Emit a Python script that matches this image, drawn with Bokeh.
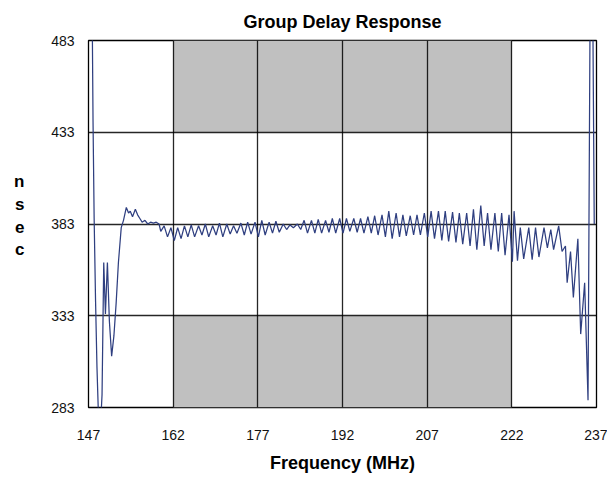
from bokeh.plotting import figure
from bokeh.models import FixedTicker, LinearAxis, Range1d
from bokeh.embed import file_html
from bokeh.resources import INLINE

# ---- data ----
freq_mhz = [
    147.6, 147.8, 148.0, 148.25, 148.5, 148.75, 149.05, 149.4, 149.7, 150.0,
    150.35, 150.7, 151.1, 151.5, 151.9, 152.3, 152.8, 153.2, 153.7, 154.1,
    154.4, 154.8, 155.3, 155.7, 156.1, 156.5, 157.0, 157.5, 158.0, 158.5,
    159.0, 159.5,
    159.8, 160.4, 161.0, 161.6, 162.2, 162.8, 163.4, 164.0, 164.6, 165.2,
    165.8, 166.5, 167.1, 167.7, 168.3, 169.0, 169.6, 170.2, 170.8, 171.5,
    172.1, 172.7, 173.3, 174.0, 174.6, 175.2, 175.8, 176.5, 177.1, 177.7,
    178.3, 179.0, 179.6, 180.2, 180.8, 181.5, 182.1, 182.7, 183.3, 184.0,
    184.6, 185.2, 185.8, 186.5, 187.1, 187.7, 188.3, 189.0, 189.6, 190.2,
    190.8, 191.5, 192.1, 192.7, 193.3, 194.0, 194.6, 195.2, 195.8, 196.5,
    197.1, 197.7, 198.3, 199.0, 199.6, 200.2, 200.8, 201.5, 202.1, 202.7,
    203.3, 204.0, 204.6, 205.2, 205.8, 206.5, 207.1, 207.7, 208.3, 209.0,
    209.6, 210.2, 210.8, 211.5, 212.1, 212.7, 213.3, 214.0, 214.6, 215.2,
    215.8, 216.5, 217.1, 217.7, 218.3, 219.0, 219.6, 220.2, 220.8, 221.5,
    222.1, 222.4, 223.0, 223.5, 224.1, 225.0, 225.6, 226.2, 226.8, 227.7,
    228.3, 228.9, 229.4, 230.3, 230.9, 231.5, 231.8, 232.4, 232.9, 233.7,
    234.2, 234.9, 235.5, 235.9, 236.3, 236.6,
]
delay_nsec = [
    520, 440, 386, 341, 305, 280, 268, 290, 362, 334,
    362, 330, 311, 322, 340, 362, 381, 385, 392, 389,
    390, 387, 391, 388, 386, 384, 385, 383, 384, 383.5,
    384, 383,
    379, 382, 376, 381, 374, 381, 375, 382, 376, 382.5,
    376, 382, 377, 383, 376, 382, 377, 383.5, 376, 383,
    377.5, 382, 378, 383.5, 377, 384, 377.5, 384, 376, 385,
    377, 384, 378, 384.5, 378.5, 383, 380, 382.5, 381, 383,
    380, 385, 378, 385, 378, 385.5, 378, 385, 378.5, 386,
    378, 386, 378, 386, 379, 386, 378.5, 386, 378, 387,
    378, 387.5, 377, 388, 376, 390, 375, 389, 376, 388,
    376.5, 387.5, 377, 388, 377, 389, 376, 390, 375, 390,
    374, 390, 373.5, 389.5, 373, 389, 372, 389, 371, 391,
    369, 393, 371, 389, 369, 389, 368, 389, 366, 388,
    362.5, 390, 363, 381, 364, 381, 363.5, 381, 365, 381,
    370, 380, 369, 382, 368, 371, 351, 368, 343, 375,
    323, 351, 287, 520, 520, 383,
]
x_ticks = [147, 162, 177, 192, 207, 222, 237]
y_ticks = [283, 333, 383, 433, 483]
band_x = [162, 222]
band_low = [283, 333]
band_high = [433, 483]
y_label_letters = ["n", "s", "e", "c"]
y_label_positions = [406, 393.5, 381, 369]

FONT = "'Liberation Sans', Arial, sans-serif"

p = figure(frame_width=508, frame_height=367, output_backend="svg", toolbar_location=None,
           x_range=Range1d(x_ticks[0], x_ticks[-1]),
           y_range=Range1d(y_ticks[0], y_ticks[-1]),
           min_border_left=88, min_border_right=11, min_border_top=40,
           min_border_bottom=60)

p.title.text = "Group Delay Response"
p.title.align = "center"
p.title.text_font = FONT
p.title.text_font_size = "18px"
p.title.text_font_style = "bold"
p.title.text_color = "#000000"
p.title.offset = 0
p.title.standoff = 17

# gray bands
for lo, hi in (band_low, band_high):
    r = p.quad(left=band_x[0], right=band_x[1], bottom=lo, top=hi,
               fill_color="#c0c0c0", line_color=None)
    r.level = "image"

p.line(freq_mhz, delay_nsec, line_color="#2f3f80", line_width=1.25)

p.xaxis.ticker = FixedTicker(ticks=x_ticks)
p.yaxis.ticker = FixedTicker(ticks=y_ticks)
for ax in (p.xaxis, p.yaxis):
    ax.axis_line_color = None
    ax.major_tick_line_color = None
    ax.minor_tick_line_color = None
    ax.major_tick_out = 0
    ax.major_tick_in = 0
    ax.minor_tick_out = 0
    ax.major_label_text_font = FONT
    ax.major_label_text_font_size = "14px"
    ax.major_label_text_color = "#111111"
p.xaxis.major_label_standoff = 22
p.yaxis.major_label_standoff = 14
p.xaxis.axis_label = "Frequency (MHz)"
p.xaxis.axis_label_text_font = FONT
p.xaxis.axis_label_text_font_size = "18px"
p.xaxis.axis_label_text_font_style = "bold"
p.xaxis.axis_label_text_color = "#000000"
p.xaxis.axis_label_standoff = 10

# stacked y-axis title "n s e c" as an extra left axis
p.extra_y_ranges = {"lbl": Range1d(y_ticks[0], y_ticks[-1])}
lbl_axis = LinearAxis(y_range_name="lbl",
                      ticker=FixedTicker(ticks=y_label_positions),
                      major_label_overrides={v: t for v, t in zip(y_label_positions, y_label_letters)},
                      axis_line_color=None, major_tick_line_color=None,
                      minor_tick_line_color=None, major_tick_out=0, major_tick_in=0,
                      minor_tick_out=0, major_label_standoff=24,
                      major_label_text_font=FONT, major_label_text_font_size="17px",
                      major_label_text_font_style="bold", major_label_text_color="#000000")
p.add_layout(lbl_axis, "left")

p.xgrid.grid_line_color = "#000000"
p.ygrid.grid_line_color = "#000000"
p.xgrid.grid_line_width = 1.3
p.ygrid.grid_line_width = 1.3
p.xgrid.grid_line_alpha = 0.85
p.ygrid.grid_line_alpha = 0.85
p.outline_line_color = "#000000"
p.outline_line_width = 1.3
p.background_fill_color = "white"
p.border_fill_color = "white"

open("out.html", "w").write(file_html(p, INLINE))
